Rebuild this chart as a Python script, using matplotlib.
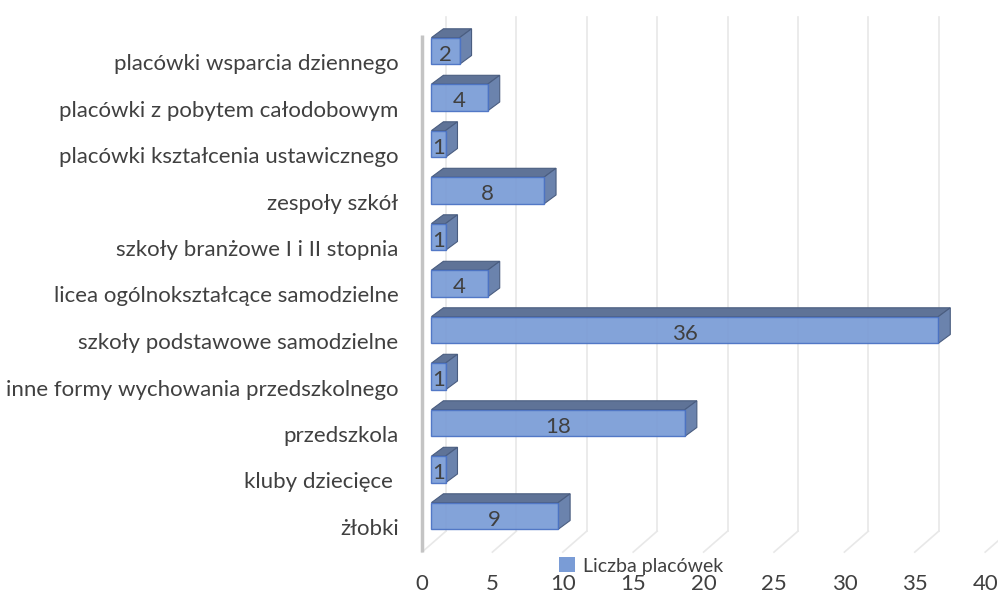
import matplotlib.pyplot as plt
from matplotlib.patches import Polygon, Patch

# data (bottom -> top, as in the chart)
categories = ['żłobki', 'kluby dziecięce ', 'przedszkola',
              'inne formy wychowania przedszkolnego',
              'szkoły podstawowe samodzielne',
              'licea ogólnokształcące samodzielne',
              'szkoły branżowe I i II stopnia', 'zespoły szkół',
              'placówki kształcenia ustawicznego',
              'placówki z pobytem całodobowym',
              'placówki wsparcia dziennego']
values = [9, 1, 18, 1, 36, 4, 1, 8, 1, 4, 2]
x_ticks = [0, 5, 10, 15, 20, 25, 30, 35, 40]
series_name = 'Liczba placówek'

# pseudo-3D geometry (data units)
FLOOR, TOP = -0.54, 10.58      # bottom / top of the category band at front
DXW, DYW = 1.70, 0.45          # offset front -> back wall
FX, FY = 0.67, 0.237           # offset floor front -> bar front face
BX, BY = 0.85, 0.19            # bar depth
H = 0.287                      # half bar height

TXT = '#404040'
FONT = 'Lato'
FS = 16

fig = plt.figure(figsize=(9.98, 5.92), dpi=100)
ax = fig.add_axes([400 / 998, 0, 598 / 998, 1])
ax.set_xlim(-22 / 14.08, 576 / 14.08)
ax.set_ylim(-65 / 46.5, 527 / 46.5)
for s in ax.spines.values():
    s.set_visible(False)

# back wall gridlines + floor diagonals
for t in x_ticks:
    ax.plot([t + DXW, t + DXW], [FLOOR + DYW, TOP + DYW - 0.06], color='#e8e8e8', lw=1.2, zorder=1)
    ax.plot([t, t + DXW], [FLOOR, FLOOR + DYW], color='#e8e8e8', lw=1.2, zorder=1)
# left wall
ax.plot([0, 0], [FLOOR, TOP], color='#c4c4c4', lw=2.5, zorder=2, solid_capstyle='butt')

# bars
for i, v in enumerate(values):
    x0, x1 = FX, FX + v
    yb, yt = i + FY - H, i + FY + H
    top = [(x0, yt), (x1, yt), (x1 + BX, yt + BY), (x0 + BX, yt + BY)]
    side = [(x1, yb), (x1 + BX, yb + BY), (x1 + BX, yt + BY), (x1, yt)]
    front = [(x0, yb), (x1, yb), (x1, yt), (x0, yt)]
    ax.add_patch(Polygon(top, closed=True, facecolor='#5f7397', edgecolor='#4a5d80', lw=0.8, zorder=3))
    ax.add_patch(Polygon(side, closed=True, facecolor='#6b83ad', edgecolor='#4a5d80', lw=0.8, zorder=3))
    ax.add_patch(Polygon(front, closed=True, facecolor='#7a9cd6', edgecolor='#4a72c4', lw=1.0,
                         alpha=0.93, zorder=4))
    ax.text((x0 + x1) / 2, i + FY - 0.08, str(v), ha='center', va='center',
            color=TXT, fontsize=FS, family=FONT, zorder=5)

# category labels
ax.set_xticks([])
ax.set_yticks(range(len(categories)))
ax.set_yticklabels(categories, color=TXT, fontsize=FS, family=FONT)
ax.tick_params(axis='y', length=0, pad=1)

# value axis labels at the front floor edge
for t in x_ticks:
    ax.text(t, -1.22, str(t), ha='center', va='center', color=TXT, fontsize=FS, family=FONT)

fig.legend(handles=[Patch(facecolor='#7a9cd6', edgecolor='none')], labels=[series_name],
           loc='center', bbox_to_anchor=(641 / 998, 1 - 566 / 592), frameon=False,
           prop={'family': FONT, 'size': 14}, labelcolor=TXT,
           handlelength=0.8, handleheight=0.8, handletextpad=0.4, borderpad=0)

fig.savefig('out.png', dpi=100)
